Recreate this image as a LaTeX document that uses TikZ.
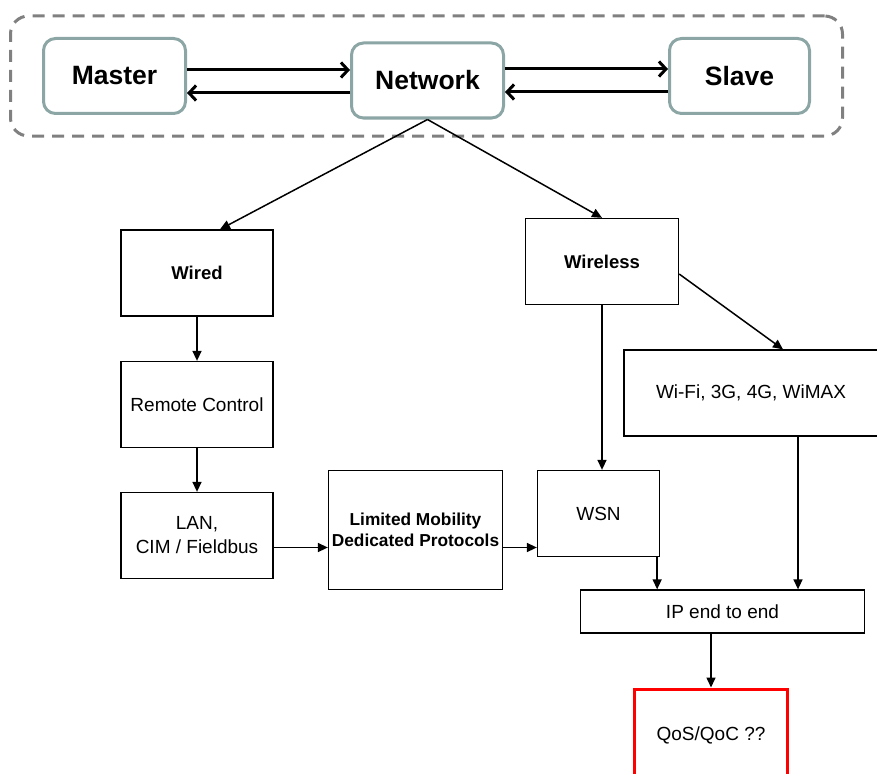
\documentclass[tikz,border=0pt]{standalone}
\usepackage{fontspec}
\setmainfont{Liberation Sans}
\usetikzlibrary{arrows.meta}
\definecolor{boxteal}{RGB}{140,165,165}
\definecolor{dashgray}{RGB}{128,128,128}

\tikzset{
  endbox/.style={draw=boxteal, line width=3pt, rounded corners=12pt, fill=white,
    minimum height=75pt, font=\bfseries\fontsize{26.5}{30}\selectfont},
  framebox/.style={draw=dashgray, line width=3pt, rounded corners=18pt,
    dash pattern=on 12pt off 8pt},
  blockbox/.style={draw, line width=1.3pt, minimum height=86pt, align=center,
    font=\fontsize{19}{24}\selectfont},
  flow/.style={-{Triangle[length=10pt,width=9pt]}, line width=1.5pt},
  busflow/.style={-{Straight Barb[length=7pt,width=15pt,line width=3pt]}, line width=3pt}
}

\begin{document}
\begin{tikzpicture}[x=1pt, y=-1pt]
    \useasboundingbox (0,0) rectangle (877,773);
    % dashed frame round the top row
    \node(frame)[framebox, minimum width=832pt, minimum height=120pt] at (426.5,76) {};
    \node(master)[endbox, minimum width=142pt] at (114.5,76) {Master};
    \node(net)[endbox, minimum width=152pt] at (427.5,80.5) {Network};
    \node(slave)[endbox, minimum width=140pt] at (739.5,76) {Slave};
    \draw[busflow] ([yshift=6pt]master.east) -- ([yshift=6pt]master.east -| net.west);
    \draw[busflow] ([yshift=-17pt]master.east -| net.west) -- ([yshift=-17pt]master.east);
    \draw[busflow] ([yshift=7pt]slave.west -| net.east) -- ([yshift=7pt]slave.west);
    \draw[busflow] ([yshift=-16pt]slave.west) -- ([yshift=-16pt]slave.west -| net.east);

    % wired branch
    \node(wired)[blockbox, minimum width=152pt, font=\bfseries\fontsize{18.5}{24}\selectfont] at (197,273) {Wired};
    \node(remote)[blockbox, minimum width=152pt] at (197,404.5) {Remote Control};
    \node(lan)[blockbox, minimum width=152pt] at (197,535.5) {LAN,\\CIM / Fieldbus};
    \node(limited)[blockbox, minimum width=174pt, minimum height=119pt,
        font=\bfseries\fontsize{17.3}{21}\selectfont] at (415.5,530) {Limited Mobility\\Dedicated Protocols};

    % wireless branch
    \node(wireless)[blockbox, minimum width=153pt, font=\bfseries\fontsize{18.5}{24}\selectfont] at (602,261.5) {Wireless};
    \node(wifi)[blockbox, minimum width=254pt] at (751,393) {Wi-Fi, 3G, 4G, WiMAX};
    \node(wsn)[blockbox, minimum width=122pt] at (598.5,513.5) {WSN};
    \node(ip)[blockbox, minimum width=284pt, minimum height=43pt] at (722.5,611.5) {IP end to end};
    \node(qos)[blockbox, draw=red, line width=3pt, minimum width=153pt, minimum height=92pt] at (711,735) {QoS/QoC ??};

    \draw[flow] (net.south) -- ([xshift=23pt]wired.north);
    \draw[flow] (net.south) -- (wireless.north);
    \draw[flow] (wired.south) -- (remote.north);
    \draw[flow] (remote.south) -- (lan.north);
    \draw[flow] ([yshift=-12pt]lan.east) -- ([yshift=-12pt]lan.east -| limited.west);
    \draw[flow] ([yshift=-12pt]lan.east -| limited.east) -- ([yshift=-12pt]lan.east -| wsn.west);
    \draw[flow] ([yshift=-12.5pt]wireless.east) -- ([xshift=32pt]wifi.north);
    \draw[flow] (wireless.south) -- (wireless.south |- wsn.north);
    \draw[flow] ([xshift=-3pt]wsn.south east) -- ([xshift=-3pt]wsn.south east |- ip.north);
    \draw[flow] ([xshift=47pt]wifi.south) -- ([xshift=47pt]wifi.south |- ip.north);
    \draw[flow] (qos.north |- ip.south) -- (qos.north);
\end{tikzpicture}
\end{document}
